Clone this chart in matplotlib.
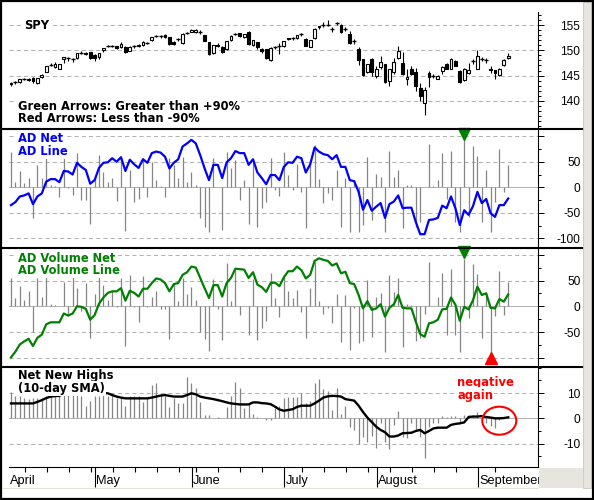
import numpy as np
import pandas as pd
import matplotlib
matplotlib.use('Agg')
import matplotlib.pyplot as plt
from matplotlib.patches import Rectangle, Ellipse
from matplotlib.lines import Line2D
from matplotlib.ticker import MultipleLocator

plt.rcParams['font.family'] = ['Liberation Sans', 'DejaVu Sans']
plt.rcParams['lines.scale_dashes'] = False

W, H = 594, 500

# trading days 2 Apr - 12 Sep 2007
holidays = ['2007-04-06', '2007-05-28', '2007-07-04', '2007-09-03']
days = pd.bdate_range('2007-04-02', '2007-09-12')
days = days[~days.isin(pd.to_datetime(holidays))]
month_names = ['April', 'May', 'June', 'July', 'August', 'September']

# SPY daily candles
spy_open = [143.3, 143.6, 143.7, 144.4, 144.4, 144.5, 143.5, 144.8, 145.8, 147.0,
            146.6, 146.4, 148.2, 148.3, 148.4, 148.5, 149.5, 149.2, 149.6, 149.1,
            148.7, 150.0, 150.9, 150.8, 150.8, 150.6, 150.7, 149.9, 150.7, 150.9,
            151.0, 151.4, 152.0, 152.8, 152.8, 153.0, 152.6, 151.7, 152.1, 151.4,
            153.4, 153.7, 153.6, 153.8, 153.0, 151.6, 149.4, 151.1, 150.7, 150.2,
            152.0, 153.2, 153.4, 152.6, 153.7, 151.0, 151.6, 150.2, 150.2, 148.0,
            150.5, 150.7, 150.8, 152.4, 152.3, 152.4, 153.1, 152.2, 150.7, 152.4,
            154.8, 154.9, 155.0, 154.3, 155.3, 155.0, 154.2, 153.2, 151.9, 150.3,
            148.2, 145.8, 148.3, 145.0, 146.6, 147.2, 143.9, 145.8, 148.4, 147.4,
            144.3, 146.4, 145.7, 142.6, 139.6, 145.5, 145.0, 144.4, 146.0, 147.3,
            146.4, 147.9, 146.0, 144.2, 145.5, 147.8, 146.4, 148.3, 148.1, 146.4,
            146.1, 145.2, 147.1, 148.4]
spy_close = [143.6, 143.7, 144.3, 144.4, 144.2, 144.0, 144.5, 145.2, 146.8, 147.1,
             147.2, 147.2, 148.6, 148.4, 148.3, 149.4, 149.5, 149.4, 148.4, 148.4,
             149.4, 150.4, 150.9, 150.9, 150.4, 151.2, 149.7, 150.7, 150.8, 151.1,
             151.6, 151.5, 152.6, 152.9, 152.8, 152.6, 151.2, 151.3, 152.2, 153.3,
             153.5, 154.1, 154.1, 153.7, 151.9, 149.3, 151.0, 150.9, 149.7, 151.8,
             152.8, 153.2, 152.8, 153.2, 151.2, 152.0, 150.7, 149.9, 148.4, 150.4,
             150.6, 150.8, 151.8, 152.2, 152.4, 153.0, 153.2, 150.9, 152.0, 154.3,
             154.6, 155.0, 155.0, 154.2, 155.3, 153.7, 154.2, 151.4, 151.9, 148.1,
             145.1, 147.2, 145.8, 146.4, 147.6, 143.8, 146.3, 147.6, 149.9, 145.3,
             144.8, 145.4, 142.9, 140.9, 142.1, 144.8, 145.0, 144.9, 146.6, 146.4,
             148.3, 146.9, 143.8, 146.4, 146.1, 147.9, 148.9, 148.2, 148.1, 146.1,
             145.6, 146.4, 148.0, 148.9]
spy_high = [143.8, 143.9, 144.4, 144.6, 144.5, 144.7, 144.6, 145.3, 146.9, 147.4,
            147.6, 147.3, 148.7, 148.6, 148.5, 149.5, 149.8, 149.6, 149.7, 149.2,
            149.5, 150.5, 151.1, 151.0, 150.9, 151.7, 150.8, 150.8, 151.0, 151.2,
            151.8, 151.7, 152.7, 153.1, 153.0, 153.2, 152.7, 151.8, 152.4, 153.4,
            153.7, 154.3, 154.2, 154.0, 153.1, 151.7, 151.1, 151.4, 150.8, 151.9,
            153.0, 153.5, 153.5, 153.3, 153.8, 152.1, 151.7, 150.5, 150.3, 150.6,
            150.9, 151.4, 151.9, 152.5, 152.7, 153.1, 153.4, 152.5, 152.1, 154.5,
            154.9, 155.5, 156.0, 154.6, 155.6, 155.2, 154.6, 153.8, 152.3, 150.6,
            148.3, 147.3, 148.5, 146.9, 148.8, 147.3, 146.4, 148.4, 150.9, 149.7,
            146.4, 146.8, 146.5, 143.5, 142.7, 146.0, 145.3, 145.1, 146.8, 147.5,
            148.5, 148.1, 146.2, 146.5, 147.4, 148.2, 150.0, 148.6, 148.5, 146.8,
            146.2, 146.5, 148.2, 149.4]
spy_low = [142.9, 143.4, 143.6, 144.1, 144.0, 143.5, 143.3, 144.5, 145.7, 146.8,
           146.5, 146.3, 147.4, 147.9, 147.6, 148.3, 149.2, 149.0, 148.3, 147.8,
           148.2, 149.6, 150.6, 150.6, 150.3, 150.5, 149.5, 149.8, 150.5, 150.7,
           150.9, 151.2, 151.9, 152.6, 152.5, 152.5, 151.0, 151.1, 151.9, 151.3,
           153.3, 153.6, 153.5, 153.3, 151.8, 149.1, 149.2, 150.6, 149.4, 150.0,
           151.9, 153.0, 152.7, 152.5, 151.0, 150.9, 150.2, 149.5, 148.2, 147.9,
           150.3, 149.2, 150.7, 152.0, 152.1, 152.3, 152.9, 150.8, 150.6, 152.3,
           154.3, 154.7, 154.8, 153.6, 155.0, 153.5, 153.9, 151.2, 151.3, 147.0,
           145.0, 145.6, 145.0, 144.6, 146.4, 143.5, 142.9, 145.4, 148.2, 145.2,
           143.1, 145.2, 141.9, 139.9, 137.2, 142.8, 144.6, 144.3, 145.4, 146.3,
           146.3, 146.8, 143.6, 144.0, 145.4, 147.3, 146.3, 147.8, 147.5, 145.5,
           144.3, 145.0, 146.8, 148.3]

# AD Net (bars) and AD Line
ad_net = [70, 10, 31, 8, 18, -60, 44, 18, 70, 5,
          3, -20, 62, -2, -15, 67, -25, -25, -72, 18,
          63, 30, 11, 18, -26, 57, -86, 34, -28, -22,
          57, -20, 50, 14, 3, -20, 57, 44, 18, 60,
          11, 30, 5, -61, -77, -88, 57, 1, -84, 70,
          37, 54, -25, 14, -72, 50, -77, -40, -28, 57,
          -5, -18, 70, 24, -5, 45, -9, -80, 50, 83,
          17, -30, -12, -25, 34, -77, 19, -87, 14, -88,
          -73, 60, -64, 27, 21, -88, 71, 21, 34, -79,
          5, 5, -77, -69, 1, 85, 2, 14, 67, -22,
          71, -69, -88, 94, -58, 81, 61, -68, 34, -87,
          -28, 76, -9, 44]
ad_line = [-35, -29, -18, -16, -12, -33, -18, -12, 11, 16,
           16, 10, 32, 31, 25, 48, 40, 34, 7, 14,
           38, 48, 49, 57, 50, 59, 32, 54, 45, 38,
           55, 48, 67, 70, 68, 60, 37, 48, 55, 80,
           86, 93, 86, 63, 37, 14, 44, 44, 18, 49,
           57, 71, 67, 67, 44, 55, 29, 18, 6, 24,
           24, 14, 40, 49, 48, 60, 57, 29, 45, 78,
           70, 65, 63, 55, 63, 40, 40, 14, 12, -9,
           -44, -25, -46, -38, -31, -60, -33, -28, -16, -41,
           -40, -40, -68, -92, -92, -64, -63, -60, -36, -41,
           -18, -41, -74, -45, -54, -37, -9, -31, -23, -51,
           -58, -35, -35, -22]

# AD Volume Net (bars) and AD Volume Line
adv_net = [55, 16, 39, 13, 29, -50, 55, 19, 61, 5,
           3, 1, 48, -19, 58, 35, -10, 45, -61, 23,
           56, 42, 13, 29, -2, 55, -77, 61, -2, -31,
           58, -2, 19, 29, -6, -6, -63, 45, 10, 55,
           23, 37, 13, -50, -63, -86, 52, -6, -65, 84,
           10, 71, -16, 1, -56, 52, -65, -42, -29, 65,
           16, -21, 61, 30, 16, 32, -12, -62, 35, 86,
           10, -14, -3, -33, 23, -70, 22, -85, -4, -72,
           -68, 51, -59, 19, 25, -89, 61, 28, 54, -78,
           4, 3, -68, -61, -14, 85, 1, 19, 64, -55,
           72, -55, -88, 92, -22, 82, 62, -62, 28, -93,
           -19, 68, -17, 48]
adv_line = [-99, -88, -74, -68, -63, -77, -61, -55, -35, -31,
            -31, -31, -14, -18, -14, 0, -1, -5, -26, -17,
            5, 17, 26, 29, 29, 35, 11, 30, 26, 19,
            34, 34, 45, 54, 52, 45, 29, 43, 45, 61,
            66, 77, 75, 55, 35, 16, 41, 41, 19, 45,
            55, 73, 72, 71, 55, 66, 42, 37, 28, 45,
            46, 39, 56, 68, 68, 77, 70, 54, 61, 88,
            93, 90, 88, 79, 83, 64, 67, 45, 43, 22,
            -4, 10, -7, -4, 4, -20, -3, 4, 22, -3,
            -4, -4, -30, -54, -59, -33, -31, -26, -6, -5,
            17, 3, -28, -1, -6, 12, 38, 22, 25, -3,
            -4, 14, 9, 23]

# Net New Highs (bars) and its 10-day SMA
nnh = [10.3, 9, 9, 8, 7.6, 8, 8, 8, 9, 10,
       9.5, 10, 10, 9.5, 10, 9.5, 9, 5, 7, 9,
       9, 10, 9, 10, 8, 8, 5, 9, 9, 9,
       6.5, 8, 13, 14, 9.5, 9, 4.6, 8, 6, 6,
       16.5, 14, 12, 6.5, 1.3, 1.3, 0.3, 0.7, 0.3, 4.6,
       9, 14.5, 12, 4, 6, 1.6, 0.7, 0.2, -0.7, -0.7,
       4, 5, 8, 8.5, 8.5, 8.5, 10, 6, 7, 14,
       15.5, 11.6, 11, 3.3, 12, 1.6, 5, -3.3, -4.6, -10,
       -7.2, -9.5, -6.8, -11.8, -2, -9.5, -12, -2.6, 2.9, -7.2,
       -7.9, -2, -4.6, -7.2, -15.8, -3.3, -2, -2, 1, 0.5,
       1, 1, -1.3, 1.3, 1.3, 1.3, 2.6, -0.7, -2, -2.9,
       -4, -0.5, 0.3, 0.5]
nnh_sma = [5.9, 5.9, 5.9, 5.9, 5.9, 5.9, 6.5, 7.2, 8.0, 8.6,
           8.8, 8.9, 9.9, 9.9, 9.9, 10, 10, 10, 10, 10,
           10, 10, 9.9, 9.2, 8.6, 8.2, 7.9, 7.9, 7.9, 7.9,
           7.9, 7.9, 8.2, 8.6, 9.0, 9.2, 8.9, 8.6, 8.6, 8.6,
           9.2, 9.9, 9.5, 8.6, 8.2, 7.9, 7.6, 7.2, 6.8, 6.3,
           5.9, 5.7, 5.5, 5.5, 5.5, 6.3, 6.3, 6.0, 5.9, 5.6,
           4.6, 3.5, 3.0, 3.3, 3.6, 4.5, 5, 5, 5, 5.9,
           7, 8.2, 8.7, 8.9, 8.8, 8.6, 7.6, 7.3, 7.0, 5.0,
           2.5, 0.3, -1.5, -3.3, -4.6, -5.5, -7.2, -7.2, -6.8, -5.9,
           -5.8, -5.7, -5.0, -4.6, -5.9, -5.0, -4.0, -3.7, -3.7, -3.7,
           -2.6, -2.2, -2.0, -1.6, 0.5, 0.7, 0.7, 0.9, 0.5, 0.3,
           0, 0, 0.1, 0.4]

x = np.arange(len(days))
XMIN, XMAX = (9 - 11) / 4.4, (538 - 11) / 4.4
GRID = '#b4b4b4'
BAR = '#858585'

fig = plt.figure(figsize=(W / 100, H / 100), dpi=100)
fig.patch.set_facecolor('white')


def rect(l, t, r, b):
    return [l / W, 1 - b / H, (r - l) / W, (b - t) / H]


def ftext(px, py, s, **kw):
    return fig.text(px / W, 1 - py / H, s, **kw)


def setup(ax, ylim, major, labels, minor):
    ax.set_xlim(XMIN, XMAX)
    ax.set_ylim(*ylim)
    for s in ['left', 'top', 'bottom']:
        ax.spines[s].set_visible(False)
    ax.spines['right'].set_linewidth(0.8)
    ax.yaxis.tick_right()
    ax.set_yticks(major)
    ax.set_yticklabels(labels)
    ax.yaxis.set_minor_locator(MultipleLocator(minor))
    ax.tick_params(axis='y', which='major', length=4.3, width=0.7, pad=26.2,
                   labelsize=8.6)
    ax.tick_params(axis='y', which='minor', length=2.2, width=0.7)
    for lab in ax.get_yticklabels():
        lab.set_horizontalalignment('right')
    ax.set_xticks([])


def grid(ax, levels, zero=True):
    for v in levels:
        ax.axhline(v, color=GRID, lw=0.75, ls=(0, (3, 2.2)), zorder=0)
    if zero:
        ax.axhline(0, color=GRID, lw=0.75, zorder=0)


# ---- panel 1: SPY candles
ax1 = fig.add_axes(rect(9, 12, 538, 128))
setup(ax1, (134.64, 157.57), [140, 145, 150, 155], ['140', '145', '150', '155'], 1)
grid(ax1, [140, 145, 150, 155], zero=False)
for i in x:
    o, c, h, l = spy_open[i], spy_close[i], spy_high[i], spy_low[i]
    ax1.vlines(i, l, h, color='black', lw=0.8, zorder=2)
    if abs(c - o) < 0.15:
        ax1.hlines(c, i - 0.45, i + 0.45, color='black', lw=1.0, zorder=3)
    else:
        ax1.add_patch(Rectangle((i - 0.33, min(o, c)), 0.66, abs(c - o),
                                facecolor='white' if c > o else 'black',
                                edgecolor='black', lw=0.8, zorder=3))

# ---- panel 2: AD Net / AD Line
ax2 = fig.add_axes(rect(9, 129, 538, 247))
setup(ax2, (-117.1, 114.3), [-100, -50, 0, 50, 100], ['-100', '-50', '0', '50', ''], 25)
grid(ax2, [-100, -50, 50, 100])
ax2.vlines(x, 0, ad_net, color=BAR, lw=0.9, zorder=1)
ax2.plot(x, ad_line, color='#0000ff', lw=1.6, zorder=2)

# ---- panel 3: AD Volume Net / AD Volume Line
ax3 = fig.add_axes(rect(9, 248, 538, 366))
setup(ax3, (-115.7, 113.0), [-100, -50, 0, 50, 100], ['', '-50', '0', '50', ''], 25)
grid(ax3, [-100, -50, 50, 100])
ax3.vlines(x, 0, adv_net, color=BAR, lw=0.9, zorder=1)
ax3.plot(x, adv_line, color='#008000', lw=1.6, zorder=2)

# arrows where the net reading is beyond +/-90
for i in x:
    if ad_net[i] > 90:
        ax2.plot(i, 104, marker='v', color='#008000', ms=8, clip_on=False, zorder=4)
    if ad_net[i] < -90:
        ax2.plot(i, -104, marker='^', color='#ff0000', ms=8, clip_on=False, zorder=4)
    if adv_net[i] > 90:
        ax3.plot(i, 105, marker='v', color='#008000', ms=8, clip_on=False, zorder=4)
    if adv_net[i] < -90:
        ax3.plot(i, -101, marker='^', color='#ff0000', ms=8, clip_on=False, zorder=4)

# ---- panel 4: Net New Highs
ax4 = fig.add_axes(rect(9, 367, 538, 467))
setup(ax4, (-19.25, 20.3), [-10, 0, 10], ['-10', '0', '10'], 5)
grid(ax4, [-10, 10])
ax4.vlines(x, 0, nnh, color=BAR, lw=0.9, zorder=1)
ax4.plot(x, nnh_sma, color='black', lw=1.7, zorder=2)
ax4.spines['bottom'].set_visible(True)
ax4.spines['bottom'].set_linewidth(0.8)

month_start = [i for i in x[1:] if days[i].month != days[i - 1].month]
week_start = [i for i in x[1:] if days[i].weekday() < days[i - 1].weekday()]
ax4.set_xticks([p - 0.9 for p in month_start])
ax4.set_xticks([p - 0.9 for p in week_start], minor=True)
ax4.tick_params(axis='x', which='major', direction='out', length=14.4, width=0.8,
                labelbottom=False)
ax4.tick_params(axis='x', which='minor', direction='out', length=3.6, width=0.8)
label_pos = [XMIN] + [p - 0.9 for p in month_start]
for p, name in zip(label_pos, month_names):
    ax4.text(p + 0.25, -0.173, name, transform=ax4.get_xaxis_transform(),
             ha='left', va='baseline', fontsize=9.2, clip_on=False)

# ---- annotations
lab = dict(family='DejaVu Sans', fontweight='bold', fontsize=8.3, va='baseline',
           bbox=dict(boxstyle='square,pad=0.12', facecolor='white', edgecolor='none'),
           zorder=6)
ftext(24.5, 29, 'SPY', color='black', **lab)
ftext(18, 110.5, 'Green Arrows: Greater than +90%', color='black', **lab)
ftext(18, 122, 'Red Arrows: Less than -90%', color='black', **lab)
ftext(17.5, 142, 'AD Net', color='#0000ff', **lab)
ftext(17.5, 155, 'AD Line', color='#0000ff', **lab)
ftext(17.5, 261.5, 'AD Volume Net', color='#008000', **lab)
ftext(17.5, 274, 'AD Volume Line', color='#008000', **lab)
ftext(17.5, 379, 'Net New Highs', color='black', **lab)
ftext(17.5, 392, '(10-day SMA)', color='black', **lab)
ftext(457, 386, 'negative', color='#ff0000', **lab)
ftext(457, 398.5, 'again', color='#ff0000', **lab)

fig.add_artist(Ellipse((499.3 / W, 1 - 420.7 / H), 34 / W, 28 / H,
                       transform=fig.transFigure, fill=False,
                       edgecolor='#ff0000', lw=1.5, zorder=7))

# panel separators, gray margins and outer frame
for yy in [128.5, 247.5, 366.5]:
    fig.add_artist(Line2D([3 / W, 583 / W], [1 - yy / H] * 2, color='black',
                          lw=1.5, transform=fig.transFigure, zorder=5))
fig.add_artist(Line2D([3 / W, 538 / W], [1 - 487.5 / H] * 2, color='#e2e2d6',
                      lw=0.8, transform=fig.transFigure, zorder=5))
fig.add_artist(Rectangle((538.5 / W, 1 - 487.5 / H), 44.5 / W, 20 / H,
                         transform=fig.transFigure, facecolor='#e6e6de',
                         edgecolor='none', zorder=5))
fig.add_artist(Rectangle((583 / W, 1 - 487.5 / H), 8 / W, 485.5 / H,
                         transform=fig.transFigure, facecolor='#e6e6de',
                         edgecolor='#c8c8c0', lw=0.6, zorder=5))
fig.add_artist(Rectangle((0.75 / W, 0.75 / H), (W - 1.5) / W, (H - 1.5) / H,
                         transform=fig.transFigure, fill=False,
                         edgecolor='black', lw=1.6, zorder=8))

fig.savefig('out.png', dpi=100)
